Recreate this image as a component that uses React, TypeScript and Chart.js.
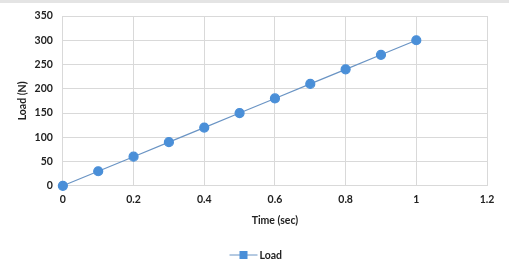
import React, { useEffect, useRef } from "react";
import { Chart, registerables } from "chart.js";

Chart.register(...registerables);

const timeSec = [0, 0.1, 0.2, 0.3, 0.4, 0.5, 0.6, 0.7, 0.8, 0.9, 1];
const loadN = [0, 30, 60, 90, 120, 150, 180, 210, 240, 270, 300];
const seriesName = "Load";
const xTitle = "Time (sec)";
const yTitle = "Load (N)";

const FONT = "Lato, 'Open Sans', sans-serif";
const LINE = "#6a94c4";
const MARK = "#4a8fd8";

// Legend drawn below the axis title: a short line with a square marker, then the name
const lineLegend = {
  id: "lineLegend",
  afterDraw(chart: any) {
    const ctx = chart.ctx;
    const cx = chart.width / 2 + 3;
    const y = chart.height - 19;
    ctx.save();
    ctx.strokeStyle = LINE;
    ctx.lineWidth = 1;
    ctx.beginPath();
    ctx.moveTo(cx - 28, y);
    ctx.lineTo(cx, y);
    ctx.stroke();
    ctx.fillStyle = MARK;
    ctx.fillRect(cx - 18, y - 4, 8, 8);
    ctx.fillStyle = "#222";
    ctx.font = `bold 10.5px ${FONT}`;
    ctx.textBaseline = "middle";
    ctx.fillText(seriesName, cx + 2, y + 1);
    ctx.restore();
  },
};

export default function App() {
  const ref = useRef<HTMLCanvasElement>(null);
  useEffect(() => {
    document.body.style.margin = "0";
    const chart = new Chart(ref.current!, {
      type: "line",
      data: {
        datasets: [
          {
            label: seriesName,
            data: timeSec.map((t, i) => ({ x: t, y: loadN[i] })),
            borderColor: LINE,
            borderWidth: 1.2,
            pointBackgroundColor: MARK,
            pointBorderColor: MARK,
            pointRadius: 4.5,
            pointStyle: "circle",
            tension: 0,
            clip: false as any,
          },
        ],
      },
      options: {
        animation: false,
        responsive: false,
        maintainAspectRatio: false,
        layout: { autoPadding: false, padding: { left: 16, right: 22, top: 13, bottom: 47 } },
        plugins: { legend: { display: false }, tooltip: { enabled: false } },
        scales: {
          x: {
            type: "linear",
            min: 0,
            max: 1.2,
            ticks: {
              stepSize: 0.2,
              color: "#222",
              font: { family: FONT, size: 10.5, weight: "bold" },
              padding: 8,
              callback: (v: any) => String(Math.round(Number(v) * 10) / 10),
            },
            grid: { color: "#d9d9d9", drawTicks: false },
            border: { display: false },
            title: {
              display: true,
              text: xTitle,
              color: "#222",
              font: { family: FONT, size: 10.5, weight: "bold" },
              padding: { top: 0, bottom: 0 },
            },
          },
          y: {
            min: 0,
            max: 350,
            ticks: {
              stepSize: 50,
              color: "#222",
              font: { family: FONT, size: 10.5, weight: "bold" },
              padding: 3,
            },
            grid: { color: "#d9d9d9", drawTicks: true, tickLength: 7, tickColor: "rgba(0,0,0,0)" },
            border: { display: false },
            title: {
              display: true,
              text: yTitle,
              color: "#222",
              font: { family: FONT, size: 10.5, weight: "bold" },
              padding: { top: 0, bottom: 3 },
            },
          },
        },
      },
      plugins: [lineLegend],
    });
    return () => chart.destroy();
  }, []);
  return (
    <div
      style={{
        position: "absolute",
        left: 0,
        top: 0,
        width: 509,
        height: 274,
        background: "#fff",
        boxSizing: "border-box",
        borderTop: "3px solid #e4e4e4",
      }}
    >
      <canvas ref={ref} width={509} height={271} style={{ display: "block" }} />
    </div>
  );
}
